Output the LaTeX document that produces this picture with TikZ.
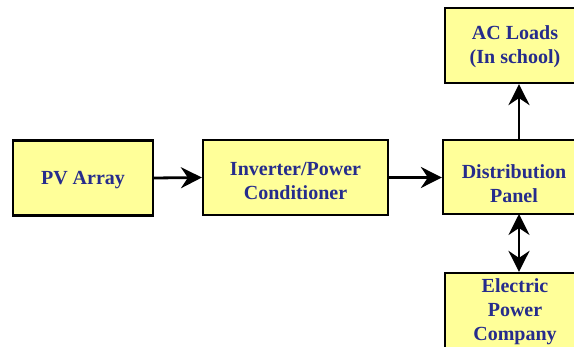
\documentclass[tikz,border=0pt]{standalone}
\usepackage{fontspec}
\setmainfont{Liberation Serif}
\usetikzlibrary{arrows.meta}
\definecolor{boxfill}{RGB}{255,255,153}
\definecolor{txtblue}{RGB}{38,44,140}
\begin{document}
\begin{tikzpicture}[x=1pt,y=-1pt,
  blk/.style={draw=black,line width=2.2pt,fill=boxfill,rectangle,inner sep=0pt},
  lbl/.style={text=txtblue,font=\fontsize{20}{24}\selectfont\bfseries,align=center},
  tip/.tip={Stealth[length=21pt,width=21pt,inset=7pt]},
  conn/.style={line width=2.8pt,-tip},
  conn2/.style={line width=2.8pt,tip-tip}]
\useasboundingbox (0,0) rectangle (574,347);
\clip (0,0) rectangle (574,347);
\fill[white] (0,0) rectangle (574,347);
\node[blk,minimum width=140pt,minimum height=75pt] (pv) at (83,178) {};
\node[lbl] at ([yshift=-2pt]pv.center) {PV Array};
\node[blk,minimum width=185pt,minimum height=75pt] (inv) at (295.5,177.5) {};
\node[lbl] at ([yshift=-4pt]inv.center) {Inverter/Power\\Conditioner};
\node[blk,minimum width=142pt,minimum height=74pt] (dist) at (514,177) {};
\node[lbl] at ([yshift=-7pt]dist.center) {Distribution\\Panel};
\node[blk,minimum width=140pt,minimum height=75pt] (ac) at (515,45.5) {};
\node[lbl] at ([yshift=-1pt]ac.center) {AC Loads\\(In school)};
\node[blk,minimum width=140pt,minimum height=90pt] (epc) at (515,318) {};
\node[lbl,anchor=north] at ([yshift=-3pt]epc.north) {Electric\\Power\\Company};
\draw[conn] (pv.east) -- (inv.west);
\draw[conn] (inv.east) -- (inv.east -| dist.west);
\coordinate (dtop) at (519,140);
\coordinate (dbot) at (519,214);
\draw[conn] (dtop) -- (dtop |- ac.south);
\draw[conn2] (dbot) -- (dbot |- epc.north);
\end{tikzpicture}
\end{document}
